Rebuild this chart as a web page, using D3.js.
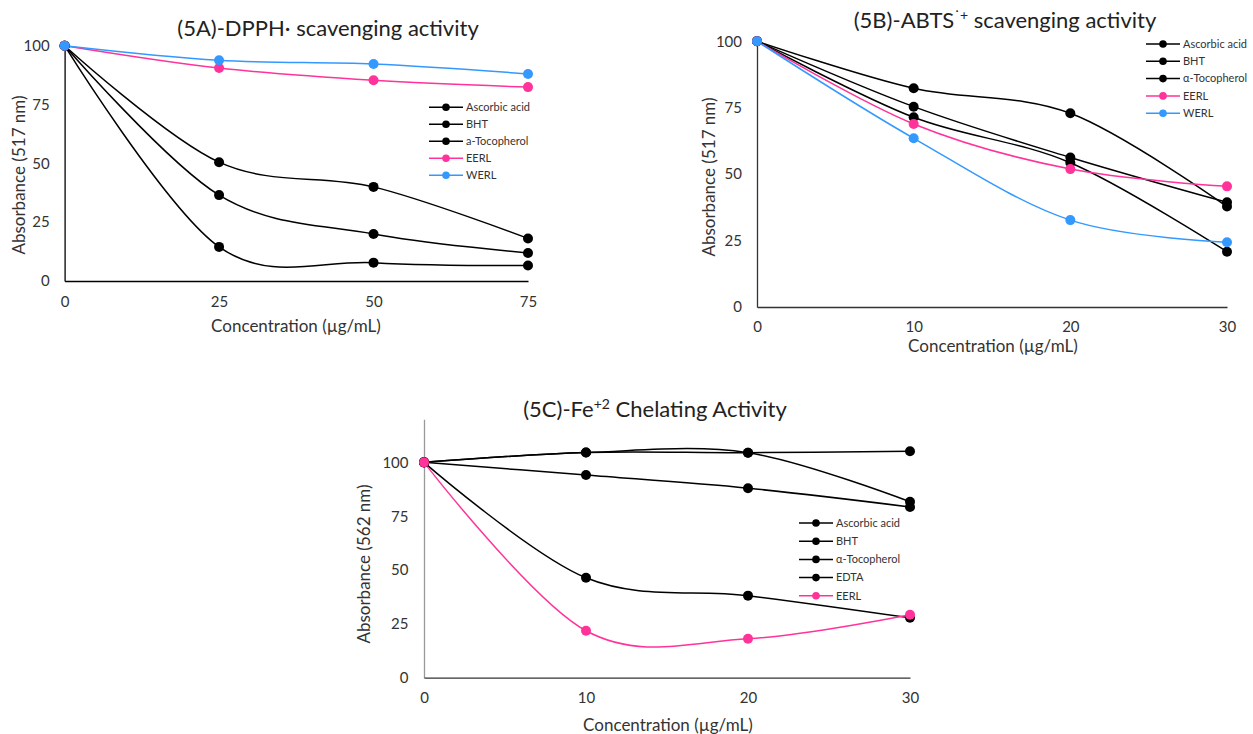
<!DOCTYPE html>
<html><head><meta charset="utf-8">
<script src="https://cdn.jsdelivr.net/npm/d3@7"></script>
<style>
body{margin:0;background:#fff;}
svg{display:block;font-family:Lato,"Open Sans",sans-serif;}
</style></head>
<body>
<svg id="c" width="1253" height="734"></svg>
<script>
// ---------- DATA ----------
const yTicks = [0, 25, 50, 75, 100];

// Panel 5A - DPPH
const concA = [0, 25, 50, 75];
const dpphAscorbic = [100, 50.5, 40, 18.1];
const dpphBHT = [100, 36.5, 20, 11.9];
const dpphToco = [100, 14.5, 7.8, 6.6];
const dpphEERL = [100, 90.5, 85.3, 82.4];
const dpphWERL = [100, 93.8, 92.2, 88];
const legendA = ["Ascorbic acid", "BHT", "a-Tocopherol", "EERL", "WERL"];

// Panel 5B - ABTS
const concB = [0, 10, 20, 30];
const abtsAscorbic = [100, 82.3, 72.9, 37.8];
const abtsBHT = [100, 75.4, 56.3, 39.4];
const abtsToco = [100, 71.4, 54.3, 20.8];
const abtsEERL = [100, 68.9, 51.9, 45.4];
const abtsWERL = [100, 63.5, 32.7, 24.4];
const legendB = ["Ascorbic acid", "BHT", "\u03b1-Tocopherol", "EERL", "WERL"];

// Panel 5C - Fe+2 chelating
const concC = [0, 10, 20, 30];
const feAscorbic = [100, 104.6, 104.5, 105.2];
const feBHT = [100, 104.6, 104.5, 81.7];
const feToco = [100, 94.1, 88, 79.3];
const feEDTA = [100, 46.4, 38.1, 27.8];
const feEERL = [100, 21.8, 18.1, 29.2];
const legendC = ["Ascorbic acid", "BHT", "\u03b1-Tocopherol", "EDTA", "EERL"];

// ---------- STYLE ----------
const BLACK = "#000000", PINK = "#ff3399", BLUE = "#3399ff";
const TXT = "#333333";
const TICK_FS = 15, AXT_FS = 17, TITLE_FS = 22;

const svg = d3.select("#c");

function panel(cfg) {
  const g = svg.append("g");
  const x = d3.scaleLinear().domain(cfg.xDomain).range(cfg.xRange);
  const y = d3.scaleLinear().domain(cfg.yDomain).range(cfg.yRange);

  const ya = g.append("g").attr("transform", `translate(${cfg.xRange[0]},0)`)
    .call(d3.axisLeft(y).tickValues(yTicks).tickSize(0).tickSizeOuter(0).tickPadding(cfg.yPad));
  ya.select(".domain").attr("stroke", cfg.yAxisColor).attr("stroke-width", 1.3);
  ya.selectAll("text").attr("font-size", TICK_FS).attr("fill", TXT).attr("font-family", "Lato");

  const xa = g.append("g").attr("transform", `translate(0,${cfg.yRange[0]})`)
    .call(d3.axisBottom(x).tickValues(cfg.xTicks).tickSize(0).tickSizeOuter(0).tickPadding(cfg.xPad));
  xa.select(".domain").attr("stroke", cfg.xAxisColor).attr("stroke-width", 1.3);
  xa.selectAll("text").attr("font-size", TICK_FS).attr("fill", TXT).attr("font-family", "Lato");

  const line = d3.line().x((d, i) => x(cfg.conc[i])).y(d => y(d)).curve(d3.curveCardinal.tension(0));
  cfg.series.forEach(s => {
    g.append("path").attr("d", line(s.values)).attr("fill", "none")
      .attr("stroke", s.color).attr("stroke-width", 1.5);
  });
  cfg.series.forEach(s => {
    g.selectAll(null).data(s.values).enter().append("circle")
      .attr("cx", (d, i) => x(cfg.conc[i])).attr("cy", d => y(d)).attr("r", 5)
      .attr("fill", s.color);
  });

  const lg = g.append("g").attr("transform", `translate(${cfg.legendX},${cfg.legendY})`);
  cfg.series.forEach((s, i) => {
    const row = lg.append("g").attr("transform", `translate(0,${i * cfg.legendStep})`);
    row.append("line").attr("x1", 0).attr("x2", 34).attr("y1", 0).attr("y2", 0)
      .attr("stroke", s.color).attr("stroke-width", 1.5);
    row.append("circle").attr("cx", 17).attr("cy", 0).attr("r", 3.8).attr("fill", s.color);
    row.append("text").attr("x", 37).attr("y", 0).attr("dy", "0.35em")
      .attr("font-size", 11).attr("fill", TXT).text(cfg.legend[i]);
  });

  const t = g.append("text").attr("x", cfg.titleX).attr("y", cfg.titleY)
    .attr("text-anchor", "middle").attr("font-size", TITLE_FS).attr("fill", "#222");
  cfg.title(t);

  g.append("text").attr("x", cfg.xTitle[0]).attr("y", cfg.xTitle[1]).attr("dy", "0.35em")
    .attr("text-anchor", "middle").attr("font-size", AXT_FS).attr("fill", TXT)
    .text("Concentration (\u00b5g/mL)");
  g.append("text").attr("transform", `translate(${cfg.yTitle[0]},${cfg.yTitle[1]}) rotate(-90)`)
    .attr("dy", "0.35em").attr("text-anchor", "middle").attr("font-size", AXT_FS).attr("fill", TXT)
    .text(cfg.yLabel);
}

panel({
  conc: concA, xDomain: [0, 75], xRange: [64.6, 528], yDomain: [0, 100], yRange: [281, 45.7],
  xTicks: concA, yPad: 15, xPad: 15, yAxisColor: "#000", xAxisColor: "#000",
  series: [
    {values: dpphAscorbic, color: BLACK}, {values: dpphBHT, color: BLACK},
    {values: dpphToco, color: BLACK}, {values: dpphEERL, color: PINK}, {values: dpphWERL, color: BLUE}],
  legend: legendA, legendX: 429, legendY: 107.3, legendStep: 17,
  titleX: 328, titleY: 36,
  title: t => t.text("(5A)-DPPH\u00b7 scavenging activity"),
  xTitle: [296, 326], yTitle: [19, 175], yLabel: "Absorbance (517 nm)"
});

panel({
  conc: concB, xDomain: [0, 30], xRange: [757, 1227], yDomain: [0, 100], yRange: [307, 41.3],
  xTicks: concB, yPad: 15, xPad: 14, yAxisColor: "#333", xAxisColor: "#333",
  series: [
    {values: abtsAscorbic, color: BLACK}, {values: abtsBHT, color: BLACK},
    {values: abtsToco, color: BLACK}, {values: abtsEERL, color: PINK}, {values: abtsWERL, color: BLUE}],
  legend: legendB, legendX: 1146, legendY: 44, legendStep: 17.3,
  titleX: 1005, titleY: 28,
  title: t => {
    t.append("tspan").text("(5B)-ABTS");
    t.append("tspan").attr("font-size", 14).attr("dy", -8).text("\u02d9+");
    t.append("tspan").attr("dy", 8).text(" scavenging activity");
  },
  xTitle: [993, 346], yTitle: [709, 177], yLabel: "Absorbance (517 nm)"
});

panel({
  conc: concC, xDomain: [0, 30], xRange: [424, 910], yDomain: [0, 120], yRange: [677.7, 419.3],
  xTicks: concC, yPad: 15.5, xPad: 15, yAxisColor: "#999", xAxisColor: "#333",
  series: [
    {values: feAscorbic, color: BLACK}, {values: feBHT, color: BLACK},
    {values: feToco, color: BLACK}, {values: feEDTA, color: BLACK}, {values: feEERL, color: PINK}],
  legend: legendC, legendX: 799, legendY: 523, legendStep: 18.2,
  titleX: 655, titleY: 417,
  title: t => {
    t.append("tspan").text("(5C)-Fe");
    t.append("tspan").attr("font-size", 14).attr("dy", -8).text("+2");
    t.append("tspan").attr("dy", 8).text(" Chelating Activity");
  },
  xTitle: [668, 725], yTitle: [364, 564], yLabel: "Absorbance (562 nm)"
});
</script>
</body></html>
